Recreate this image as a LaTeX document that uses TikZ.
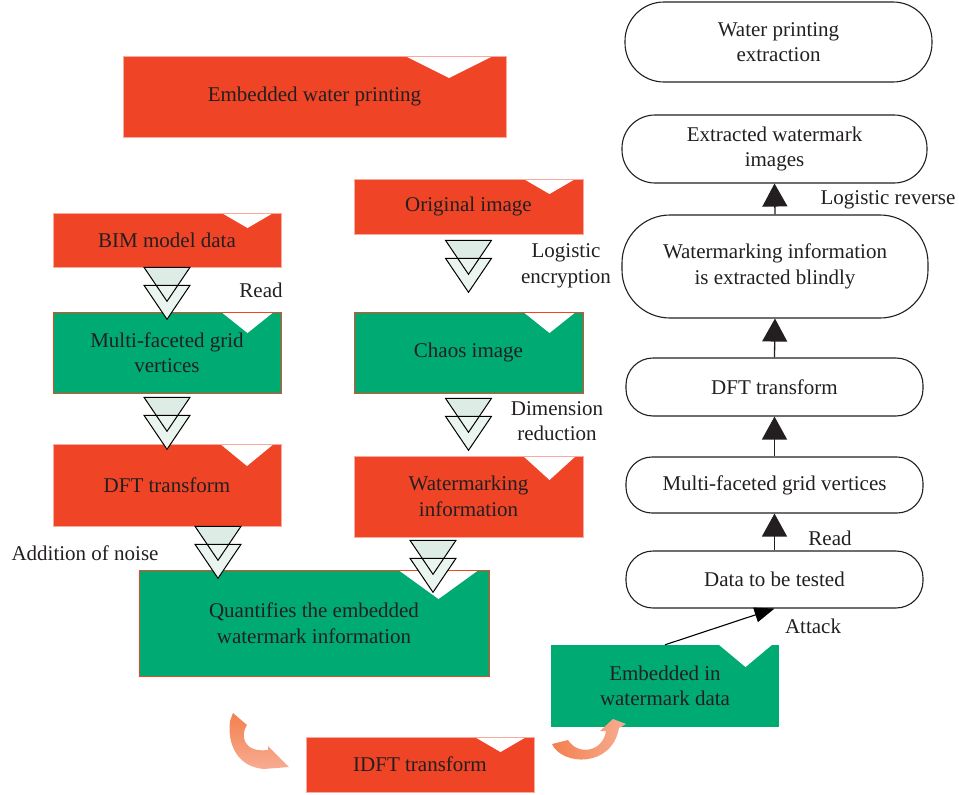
\documentclass[tikz,border=0pt]{standalone}
\usepackage{fontspec}
\setmainfont{Liberation Serif}
\usetikzlibrary{arrows.meta,calc}
\definecolor{myred}{RGB}{239,68,38}
\definecolor{mygreen}{RGB}{0,170,115}
\definecolor{txt}{RGB}{35,31,32}
\definecolor{tria}{RGB}{221,237,229}
\definecolor{trib}{RGB}{234,245,239}
\definecolor{orgA}{RGB}{243,128,78}
\definecolor{orgB}{RGB}{248,172,146}
\tikzset{
  base/.style={inner sep=0pt, align=center, text=txt, font=\fontsize{21}{25.5}\selectfont},
  redbox/.style={base, rectangle, fill=myred, draw=myred!45, line width=0.6pt},
  greenbox/.style={base, rectangle, fill=mygreen, draw=myred, line width=0.6pt},
  greenplain/.style={base, rectangle, fill=mygreen},
  notch/.style n args={3}{path picture={\fill[white] ([xshift=-#1pt,yshift=1pt]path picture bounding box.north east) -- ++(-#2pt,-#3pt-1pt) -- ++(-#2pt,#3pt+1pt) -- cycle;}},
  rbox/.style={base, rectangle, draw=txt, line width=1.1pt, fill=white},
  lbl/.style={base},
  uparr/.style={-{Triangle[width=25pt,length=23pt]}, line width=1.3pt, draw=txt},
  dtri/.pic={
    \fill[tria] (-23,0) -- (23,0) -- (0,34) -- cycle;
    \fill[trib] (-23,18) -- (23,18) -- (0,52) -- cycle;
    \draw[line width=1pt, line join=miter, draw=black] (-23,0) -- (23,0) -- (0,34) -- cycle;
    \draw[line width=1pt, line join=miter, draw=black] (-23,18) -- (23,18) -- (0,52) -- cycle;
  }
}
\begin{document}
\begin{tikzpicture}[x=1pt,y=-1pt]
\useasboundingbox (0,0) rectangle (959,795);

% left and middle columns
\node[redbox, minimum width=383, minimum height=81, notch={11}{46}{22}] (ewp) at (314.5,96.5) {Embedded water printing};
\node[redbox, minimum width=228, minimum height=54, notch={6}{27.5}{15}] (bim) at (167,240) {BIM model data};
\node[greenbox, minimum width=228, minimum height=81, notch={6}{27.5}{21}] (mfg) at (167,352.5) {Multi-faceted grid\\vertices};
\node[redbox, minimum width=228, minimum height=82, notch={6}{28}{22}] (dftl) at (167,485) {DFT transform};
\node[redbox, minimum width=229, minimum height=55, notch={6}{27.5}{15}] (orig) at (468.5,206.5) {Original image};
\node[greenbox, minimum width=229, minimum height=81, notch={6}{27.5}{21}] (chaos) at (468.5,352.5) {Chaos image};
\node[redbox, minimum width=229, minimum height=81, notch={6}{27.5}{24}] (wmi) at (468.5,496.5) {Watermarking\\information};
\node[greenbox, minimum width=350, minimum height=106, notch={9}{41.5}{29}] (quant) at (314,623) {Quantifies the embedded\\watermark information};
\node[redbox, minimum width=228, minimum height=55, notch={6}{27.5}{15}] (idft) at (420,764.5) {IDFT transform};
\node[greenplain, minimum width=228, minimum height=82, notch={6}{27.5}{22}] (emb) at (665,686) {Embedded in\\watermark data};

% double-triangle connectors
\pic at (bim.south) {dtri};
\pic at ($(mfg.south)+(0,4)$) {dtri};
\pic at ($(orig.south)+(0,6)$) {dtri};
\pic at ($(chaos.south)+(0,5)$) {dtri};
\pic at ($(dftl.south)+(51,0)$) {dtri};
\pic at ($(wmi.south)+(-35.5,3)$) {dtri};

% right column
\node[rbox, minimum width=307, minimum height=80, rounded corners=39pt] (wpe) at (778.5,42) {Water printing\\extraction};
\node[rbox, minimum width=305, minimum height=68, rounded corners=33pt] (ewi) at (774.5,149) {Extracted watermark\\images};
\node[rbox, minimum width=306, minimum height=103, rounded corners=48pt] (wieb) at (775,266.5) {Watermarking information\\is extracted blindly};
\node[rbox, minimum width=297, minimum height=58, rounded corners=27pt] (dftr) at (774.5,387) {DFT transform};
\node[rbox, minimum width=297, minimum height=56, rounded corners=26pt] (mfgr) at (774.5,485) {Multi-faceted grid vertices};
\node[rbox, minimum width=297, minimum height=57, rounded corners=27pt] (data) at (774.5,579.5) {Data to be tested};

\draw[uparr] (data.north) -- (mfgr.south);
\draw[uparr] (mfgr.north) -- (dftr.south);
\draw[uparr] (dftr.north) -- (wieb.south);
\draw[uparr] (wieb.north) -- (ewi.south);
\draw[-{Triangle[width=15pt,length=20pt]}, line width=1.1pt, draw=black] (emb.north) -- (data.south);

% labels
\node[lbl] (rd1) at (261,290) {Read};
\node[lbl] (le) at (566,266) {Logistic\\encryption};
\node[lbl] (dr) at (557,421) {Dimension\\reduction};
\node[lbl] (an) at (85,553) {Addition of noise};
\node[lbl] (lr) at (888,200) {Logistic reverse};
\node[lbl] (rd2) at (830,538) {Read};
\node[lbl] (atk) at (813,626) {Attack};

% curved ribbon arrows
\shade[top color=orgA, bottom color=orgB]
  (233,713) -- (247,725) .. controls (240,735) and (243,753) .. (268,750)
  -- (268,746) -- (289,767) -- (264,769)
  .. controls (238,767) and (227,745) .. (230,721) -- cycle;
\shade[left color=orgA, right color=orgB]
  (552,744) .. controls (562,766) and (612,768) .. (619,728)
  -- (626,724) -- (613,719) -- (600,731) -- (606,731)
  .. controls (603,752) and (578,756) .. (568,740) -- cycle;
\end{tikzpicture}
\end{document}
